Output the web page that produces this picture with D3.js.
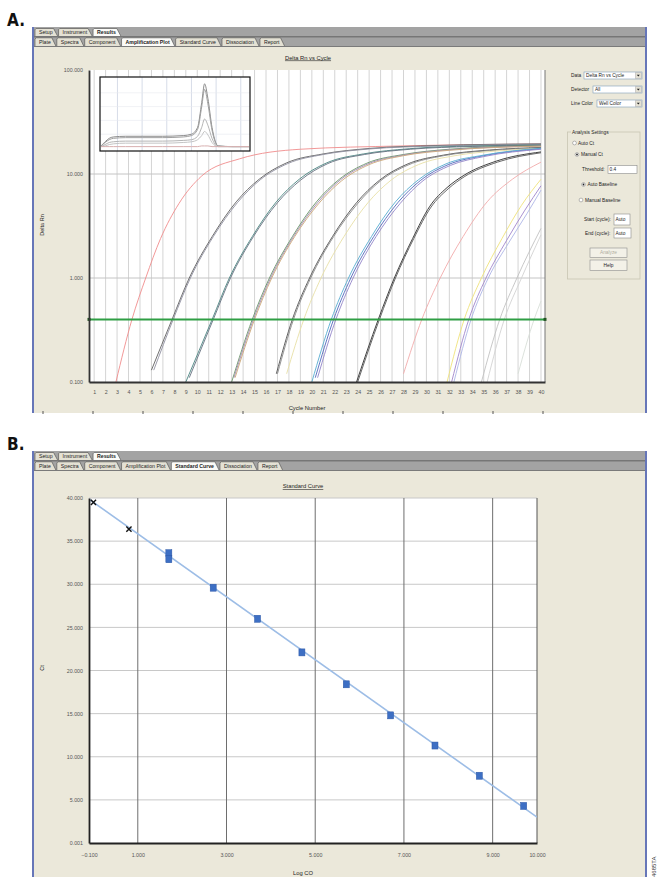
<!DOCTYPE html>
<html><head><meta charset="utf-8">
<script src="https://cdn.jsdelivr.net/npm/d3@7"></script>
<style>
html,body{margin:0;padding:0;background:#fff;}
svg{display:block;font-family:"Liberation Sans",Arial,sans-serif;}
</style></head><body>
<svg id="c" width="657" height="877"></svg>
<script>
// ---------------- DATA ----------------
const cycles = d3.range(1, 41);
const yTicksA = [0.1, 1, 10, 100];
const threshold = 0.4;

const ampColors = ["#f08c8c","#606060","#9090a0","#4a8480","#667080","#689468","#a088b0","#cca878",
  "#505050","#888888","#e8e0a6","#5068bc","#56acd0","#9284c8","#2c2c2c","#585858","#f2aaaa",
  "#efe27a","#a086cc","#aeb6e6","#c2c2c2","#d2d2d2","#d8dfd8"];
const ampCurves = [
  [[2.9,0.1],[4.3,0.4],[5.5,1.0],[6.8,2.4],[8.4,5.2],[10.4,9.6],[13.7,14.0],[19,17.3],[27.7,18.6],[40,19.4]],
  [[6.0,0.13],[7.8,0.4],[9.3,1.0],[11.3,2.5],[13.4,5.4],[15.4,8.9],[17.8,12.8],[21,15.6],[25,17.6],[31,18.8],[40,19.5]],
  [[6.2,0.13],[7.9,0.4],[9.4,1.0],[11.4,2.5],[13.5,5.3],[15.5,8.8],[17.9,12.6],[21,15.4],[25,17.4],[31,18.6],[40,19.3]],
  [[9.0,0.1],[11.3,0.4],[12.8,1.0],[14.8,2.5],[16.9,5.4],[18.9,8.9],[21.3,12.8],[24.5,15.6],[28.5,17.5],[34,18.6],[40,19.0]],
  [[9.3,0.11],[11.4,0.4],[12.9,1.0],[14.9,2.5],[17.0,5.3],[19.0,8.7],[21.4,12.6],[24.6,15.4],[28.6,17.3],[34,18.4],[40,18.9]],
  [[13.0,0.1],[14.8,0.4],[16.3,1.0],[18.3,2.5],[20.4,5.4],[22.4,8.9],[24.8,12.7],[28,15.4],[32,17.3],[40,18.8]],
  [[13.2,0.11],[14.9,0.4],[16.4,1.0],[18.4,2.5],[20.5,5.3],[22.5,8.8],[24.9,12.5],[28,15.2],[32,17.1],[40,18.6]],
  [[13.3,0.11],[15.0,0.4],[16.5,1.0],[18.5,2.5],[20.6,5.2],[22.6,8.6],[25,12.3],[28,15.0],[32,16.9],[40,18.5]],
  [[16.9,0.12],[18.3,0.4],[19.8,1.0],[21.8,2.5],[23.9,5.3],[25.9,8.7],[28.3,12.4],[31.5,15.2],[35.5,17.0],[40,18.0]],
  [[17.0,0.12],[18.4,0.4],[19.9,1.0],[21.9,2.5],[24,5.2],[26,8.6],[28.4,12.2],[31.5,15.0],[35.5,16.8],[40,17.8]],
  [[17.8,0.12],[19.3,0.4],[20.8,1.0],[22.8,2.5],[24.9,5.3],[26.9,8.7],[29.3,12.3],[32.5,15.0],[36,16.6],[40,17.6]],
  [[20.3,0.11],[21.9,0.4],[23.4,1.0],[25.4,2.5],[27.5,5.3],[29.5,8.7],[31.9,12.3],[35,15.0],[40,17.5]],
  [[20.0,0.1],[21.7,0.4],[23.2,1.0],[25.2,2.5],[27.3,5.4],[29.3,8.8],[31.7,12.5],[35,15.2],[40,17.7]],
  [[20.5,0.11],[22.1,0.4],[23.6,1.0],[25.6,2.5],[27.7,5.2],[29.7,8.6],[32.1,12.1],[35,14.7],[40,17.3]],
  [[23.9,0.1],[25.8,0.4],[27.2,1.0],[28.8,2.4],[30.3,4.9],[31.8,7.4],[33.2,9.6],[36.1,13.3],[40,16.3]],
  [[24.0,0.1],[25.9,0.4],[27.3,1.0],[28.9,2.4],[30.4,4.8],[31.9,7.2],[33.3,9.4],[36.2,13.0],[40,16.0]],
  [[28.0,0.12],[29.6,0.4],[31.2,1.0],[33.2,2.5],[35.3,5.4],[37.5,8.9],[40,13.0]],
  [[31.8,0.1],[33.3,0.4],[34.8,1.0],[36.6,2.4],[38.3,5.0],[40,8.9]],
  [[32.2,0.1],[33.7,0.4],[35.2,1.0],[37.0,2.3],[38.6,4.5],[40,7.7]],
  [[32.4,0.1],[33.9,0.4],[35.4,1.0],[37.2,2.2],[38.8,4.2],[40,7.0]],
  [[34.8,0.1],[36.4,0.4],[37.9,1.0],[40,3.0]],
  [[35.3,0.1],[36.8,0.4],[38.3,1.0],[40,2.6]],
  [[38.0,0.12],[39.4,0.4],[40,0.6]]
];

const meltTemps = [60,61,62,63,66,70,75,80,82,83.5,84.5,85.2,86,87,88.5,92,96];
const meltGrid = [64,70,76,82,88,94];
const meltColors = ["#8c8c8c","#a0a0a0","#b4b4b4","#c4c4c4","#d8b0b0"];
const meltSeries = [
  [0.03,0.09,0.14,0.16,0.17,0.17,0.17,0.18,0.20,0.30,0.66,0.93,0.72,0.30,0.03,0.02,0.02],
  [0.03,0.08,0.12,0.14,0.15,0.15,0.15,0.16,0.18,0.27,0.60,0.85,0.64,0.26,0.03,0.02,0.02],
  [0.02,0.05,0.08,0.09,0.10,0.10,0.10,0.11,0.12,0.17,0.30,0.42,0.33,0.14,0.02,0.02,0.02],
  [0.02,0.03,0.05,0.06,0.07,0.07,0.07,0.08,0.09,0.12,0.18,0.24,0.19,0.08,0.02,0.02,0.02],
  [0.02,0.02,0.02,0.02,0.02,0.02,0.02,0.02,0.02,0.02,0.03,0.03,0.03,0.02,0.02,0.02,0.02]
];

const stdLogCO = [1.7,1.7,2.7,3.7,4.7,5.7,6.7,7.7,8.7,9.7];
const stdCt    = [33.6,32.9,29.6,26.0,22.1,18.4,14.8,11.3,7.8,4.3];
const unkLogCO = [0.0,0.8];
const unkCt    = [39.5,36.4];
const fitSlope = -3.65, fitIntercept = 39.5;
const fitRange = [-0.1, 10];
const xTicksB = [-0.1,1,3,5,7,9,10];
const yTicksB = [0.001,5,10,15,20,25,30,35,40];
const gridXB = [1,3,5,7,9];

const topTabs = ["Setup","Instrument","Results"];
const subTabs = ["Plate","Spectra","Component","Amplification Plot","Standard Curve","Dissociation","Report"];

// ---------------- DRAWING ----------------
const svg = d3.select("#c");
const TXT = "#222";

function tabs(g, labels, active, x0, yt, yb) {
  let x = x0;
  labels.forEach(l => {
    const isA = l === active;
    const t = g.append("text").attr("x", x + 4).attr("y", yb - 2)
      .attr("font-size", 5.2).attr("font-weight", isA ? "bold" : "normal")
      .attr("fill", TXT).text(l);
    const w = t.node().getComputedTextLength() + 9;
    g.insert("path", "text")
      .attr("d", `M${x},${yb} L${x},${yt + 1.2} L${x + 1.2},${yt} L${x + w - 4},${yt} L${x + w},${yb}`)
      .attr("fill", isA ? "#fbfbf8" : "#e4e1d4").attr("stroke", "#4a4a4a").attr("stroke-width", 0.6);
    x += w + 1;
  });
}

function windowFrame(y0, y1, active, label) {
  const g = svg.append("g");
  g.append("rect").attr("x", 33).attr("y", y0).attr("width", 613).attr("height", y1 - y0).attr("fill", "#ebe8da");
  g.append("rect").attr("x", 34).attr("y", y0).attr("width", 611).attr("height", 20).attr("fill", "#a3a3a3");
  g.append("rect").attr("x", 34).attr("y", y0 + 9.2).attr("width", 611).attr("height", 1.2).attr("fill", "#6c6c6c");
  g.append("rect").attr("x", 34).attr("y", y0 + 19).attr("width", 611).attr("height", 1).attr("fill", "#7a7a7a");
  const tg1 = g.append("g"), tg2 = g.append("g");
  tabs(tg1, topTabs, "Results", 35, y0 + 1.5, y0 + 9);
  tabs(tg2, subTabs, active, 35, y0 + 10.8, y0 + 19);
  g.append("rect").attr("x", 32).attr("y", y0).attr("width", 2).attr("height", y1 - y0).attr("fill", "#6676b8");
  g.append("rect").attr("x", 645).attr("y", y0).attr("width", 2).attr("height", y1 - y0).attr("fill", "#6676b8");
  svg.append("text").attr("x", 7).attr("y", y0 - 1).attr("font-size", 17).attr("font-weight", "bold")
    .attr("font-family", "'Liberation Sans Narrow','DejaVu Sans Condensed',sans-serif").attr("fill", "#111").text(label);
  return g;
}

// ===== Panel A =====
const gA = windowFrame(27, 413, "Amplification Plot", "A.");
const xA = d3.scaleLinear().domain([0.55, 40.35]).range([89, 545]);
const yA = d3.scaleLog().domain([0.1, 100]).range([382, 70]);

gA.append("rect").attr("x", 89).attr("y", 70).attr("width", 456).attr("height", 312).attr("fill", "#fff");
gA.append("g").selectAll("line").data(cycles).join("line")
  .attr("x1", d => xA(d)).attr("x2", d => xA(d)).attr("y1", 70).attr("y2", 382)
  .attr("stroke", "#d4d4d4").attr("stroke-width", 1);
gA.append("g").selectAll("line").data([1, 10]).join("line")
  .attr("x1", 89).attr("x2", 545).attr("y1", d => yA(d)).attr("y2", d => yA(d))
  .attr("stroke", "#c4c4c4").attr("stroke-width", 1);
gA.append("line").attr("x1", 545).attr("x2", 545).attr("y1", 70).attr("y2", 382).attr("stroke", "#777");

svg.append("defs").append("clipPath").attr("id", "clipA").append("rect")
  .attr("x", 89).attr("y", 70).attr("width", 456).attr("height", 312);
const lineA = d3.line().x(d => xA(d[0])).y(d => yA(d[1])).curve(d3.curveMonotoneX);
gA.append("g").attr("clip-path", "url(#clipA)").selectAll("path").data(ampCurves).join("path")
  .attr("d", lineA).attr("fill", "none").attr("stroke", (d, i) => ampColors[i]).attr("stroke-width", 0.9);

// threshold
gA.append("line").attr("x1", 89).attr("x2", 545).attr("y1", yA(threshold)).attr("y2", yA(threshold))
  .attr("stroke", "#2f9e44").attr("stroke-width", 2);
[89, 545].forEach(x => gA.append("rect").attr("x", x - 1.5).attr("y", yA(threshold) - 1.5)
  .attr("width", 3).attr("height", 3).attr("fill", "#225522"));

// axes
const axLA = gA.append("g").attr("transform", "translate(89,0)")
  .call(d3.axisLeft(yA).tickValues(yTicksA).tickFormat(d3.format(".3f")).tickSize(0).tickPadding(6));
const axBA = gA.append("g").attr("transform", "translate(0,382)")
  .call(d3.axisBottom(xA).tickValues(cycles).tickFormat(d3.format("d")).tickSize(0).tickPadding(8));
[axLA, axBA].forEach(a => {
  a.select(".domain").attr("stroke", "#333").attr("stroke-width", 1.8);
  a.selectAll("text").attr("font-size", 5.3).attr("fill", "#555").attr("font-family", "'Liberation Sans',Arial,sans-serif");
});

// titles
gA.append("text").attr("x", 308).attr("y", 59.5).attr("text-anchor", "middle").attr("font-size", 5.8)
  .attr("fill", TXT).attr("text-decoration", "underline").text("Delta Rn vs Cycle");
gA.append("text").attr("transform", "translate(44,225) rotate(-90)").attr("text-anchor", "middle")
  .attr("font-size", 5.5).attr("fill", TXT).text("Delta Rn");
gA.append("text").attr("x", 307).attr("y", 410).attr("text-anchor", "middle").attr("font-size", 5.8)
  .attr("fill", TXT).text("Cycle Number");
gA.append("g").selectAll("line").data(d3.range(43, 546, 50)).join("line")
  .attr("x1", d => d).attr("x2", d => d).attr("y1", 411).attr("y2", 414).attr("stroke", "#555").attr("stroke-width", 1);

// inset
const xI = d3.scaleLinear().domain([60, 96]).range([101, 249]);
const yI = d3.scaleLinear().domain([0, 1]).range([148, 79]);
gA.append("rect").attr("x", 100).attr("y", 77).attr("width", 150).attr("height", 74).attr("fill", "#fff");
gA.append("g").selectAll("line").data(meltGrid).join("line")
  .attr("x1", d => xI(d)).attr("x2", d => xI(d)).attr("y1", 77).attr("y2", 151)
  .attr("stroke", "#cdd3e2").attr("stroke-width", 0.8);
gA.append("g").selectAll("line").data([0.2, 0.4, 0.6, 0.8]).join("line")
  .attr("x1", 100).attr("x2", 250).attr("y1", d => yI(d)).attr("y2", d => yI(d))
  .attr("stroke", "#e6e8ef").attr("stroke-width", 0.6);
const lineI = d3.line().x((d, i) => xI(meltTemps[i])).y(d => yI(d)).curve(d3.curveMonotoneX);
gA.append("g").selectAll("path").data(meltSeries).join("path").attr("d", lineI)
  .attr("fill", "none").attr("stroke", (d, i) => meltColors[i]).attr("stroke-width", 1);
gA.append("rect").attr("x", 100).attr("y", 77).attr("width", 150).attr("height", 74)
  .attr("fill", "none").attr("stroke", "#111").attr("stroke-width", 1.2);

// right side controls
function lbl(g, x, y, t, fill) {
  return g.append("text").attr("x", x).attr("y", y).attr("font-size", 4.8).attr("fill", fill || TXT).text(t);
}
function combo(g, x, y, w, h, t) {
  g.append("rect").attr("x", x).attr("y", y).attr("width", w).attr("height", h).attr("fill", "#fff").attr("stroke", "#7f9db9").attr("stroke-width", 0.6);
  lbl(g, x + 2, y + h - 1.6, t);
  g.append("rect").attr("x", x + w - 6.5).attr("y", y + 0.8).attr("width", 5.7).attr("height", h - 1.6).attr("fill", "#e3e0d3").attr("stroke", "#999").attr("stroke-width", 0.4);
  g.append("path").attr("d", `M${x + w - 5.2},${y + h / 2 - 0.8} L${x + w - 2.2},${y + h / 2 - 0.8} L${x + w - 3.7},${y + h / 2 + 1}Z`).attr("fill", "#222");
}
function tbox(g, x, y, w, h, t) {
  g.append("rect").attr("x", x).attr("y", y).attr("width", w).attr("height", h).attr("fill", "#fff").attr("stroke", "#8a8a8a").attr("stroke-width", 0.6);
  lbl(g, x + 1.5, y + h / 2 + 1.8, t);
}
function radio(g, cx, cy, on) {
  g.append("circle").attr("cx", cx).attr("cy", cy).attr("r", 1.9).attr("fill", "#fff").attr("stroke", "#777").attr("stroke-width", 0.5);
  if (on) g.append("circle").attr("cx", cx).attr("cy", cy).attr("r", 0.9).attr("fill", "#222");
}
function button(g, x, y, w, h, t, dis) {
  g.append("rect").attr("x", x).attr("y", y).attr("width", w).attr("height", h).attr("fill", "#f3f1e8").attr("stroke", "#8c8c8c").attr("stroke-width", 0.6);
  g.append("text").attr("x", x + w / 2).attr("y", y + h / 2 + 1.7).attr("text-anchor", "middle").attr("font-size", 4.8).attr("fill", dis ? "#b0ada0" : TXT).text(t);
}
const gC = gA.append("g");
lbl(gC, 571, 77, "Data"); combo(gC, 584, 72, 58, 7, "Delta Rn vs Cycle");
lbl(gC, 571, 91, "Detector"); combo(gC, 593, 86, 49, 7, "All");
lbl(gC, 571, 105, "Line Color"); combo(gC, 597, 100, 45, 7, "Well Color");
gC.append("rect").attr("x", 567.5).attr("y", 132).attr("width", 72.5).attr("height", 147).attr("fill", "none").attr("stroke", "#c9c5b2").attr("stroke-width", 0.8);
gC.append("rect").attr("x", 571).attr("y", 129.5).attr("width", 36).attr("height", 5).attr("fill", "#ebe8da");
lbl(gC, 572, 134, "Analysis Settings");
radio(gC, 574.5, 143, false); lbl(gC, 578, 144.8, "Auto Ct");
radio(gC, 577, 154.5, true); lbl(gC, 581, 156.3, "Manual Ct");
lbl(gC, 582, 171, "Threshold:"); tbox(gC, 608, 165.5, 29, 8, String(threshold));
radio(gC, 583.5, 184.5, true); lbl(gC, 587.5, 186.3, "Auto Baseline");
radio(gC, 581, 200, false); lbl(gC, 585, 201.8, "Manual Baseline");
lbl(gC, 584, 221, "Start (cycle):"); tbox(gC, 614, 214, 16, 11, "Auto");
lbl(gC, 585, 235, "End (cycle):"); tbox(gC, 614, 228, 17, 10, "Auto");
button(gC, 590, 248, 37, 9.5, "Analyze", true);
button(gC, 590, 260, 37, 10.5, "Help", false);

// ===== Panel B =====
const gB = windowFrame(451, 877, "Standard Curve", "B.");
const xB = d3.scaleLinear().domain([-0.1, 10]).range([89, 537]);
const yB = d3.scaleLinear().domain([0.001, 40]).range([843, 498]);

gB.append("rect").attr("x", 89).attr("y", 498).attr("width", 448).attr("height", 345).attr("fill", "#fff");
gB.append("g").selectAll("line").data(yTicksB.slice(1)).join("line")
  .attr("x1", 89).attr("x2", 537).attr("y1", d => yB(d)).attr("y2", d => yB(d))
  .attr("stroke", "#c8c8c8").attr("stroke-width", 1);
gB.append("g").selectAll("line").data(gridXB).join("line")
  .attr("x1", d => xB(d)).attr("x2", d => xB(d)).attr("y1", 498).attr("y2", 843)
  .attr("stroke", "#6e6e6e").attr("stroke-width", 1);
gB.append("line").attr("x1", 537).attr("x2", 537).attr("y1", 498).attr("y2", 843).attr("stroke", "#555").attr("stroke-width", 1);

svg.select("defs").append("clipPath").attr("id", "clipB").append("rect")
  .attr("x", 89).attr("y", 498).attr("width", 448).attr("height", 345);
gB.append("line").attr("clip-path", "url(#clipB)")
  .attr("x1", xB(fitRange[0])).attr("y1", yB(fitIntercept + fitSlope * fitRange[0]))
  .attr("x2", xB(fitRange[1])).attr("y2", yB(fitIntercept + fitSlope * fitRange[1]))
  .attr("stroke", "#9dbde6").attr("stroke-width", 1.6);

gB.append("g").selectAll("rect").data(stdLogCO).join("rect")
  .attr("x", d => xB(d) - 3).attr("y", (d, i) => yB(stdCt[i]) - 3.5).attr("width", 6).attr("height", 7)
  .attr("fill", "#3d6fc4").attr("stroke", "#2b56a6").attr("stroke-width", 0.5);
gB.append("g").selectAll("path").data(unkLogCO).join("path")
  .attr("transform", (d, i) => `translate(${xB(d)},${yB(unkCt[i])})`)
  .attr("d", "M-2.6,-2.6L2.6,2.6M-2.6,2.6L2.6,-2.6").attr("stroke", "#111").attr("stroke-width", 1.4);

const axLB = gB.append("g").attr("transform", "translate(89,0)")
  .call(d3.axisLeft(yB).tickValues(yTicksB).tickFormat(d3.format(".3f")).tickSize(0).tickPadding(6));
const axBB = gB.append("g").attr("transform", "translate(0,843)")
  .call(d3.axisBottom(xB).tickValues(xTicksB).tickFormat(d3.format(".3f")).tickSize(0).tickPadding(10));
[axLB, axBB].forEach(a => {
  a.select(".domain").attr("stroke", "#222").attr("stroke-width", 1.8);
  a.selectAll("text").attr("font-size", 5.3).attr("fill", "#555").attr("font-family", "'Liberation Sans',Arial,sans-serif");
});

gB.append("text").attr("x", 303).attr("y", 488).attr("text-anchor", "middle").attr("font-size", 5.8)
  .attr("fill", TXT).attr("text-decoration", "underline").text("Standard Curve");
gB.append("text").attr("transform", "translate(44,668) rotate(-90)").attr("text-anchor", "middle")
  .attr("font-size", 5.5).attr("fill", TXT).text("Ct");
gB.append("text").attr("x", 303).attr("y", 875).attr("text-anchor", "middle").attr("font-size", 5.8)
  .attr("fill", TXT).text("Log CO");

svg.append("text").attr("transform", "translate(656,877) rotate(-90)").attr("font-size", 6)
  .attr("fill", "#333").text("4685TA");
</script>
</body></html>
